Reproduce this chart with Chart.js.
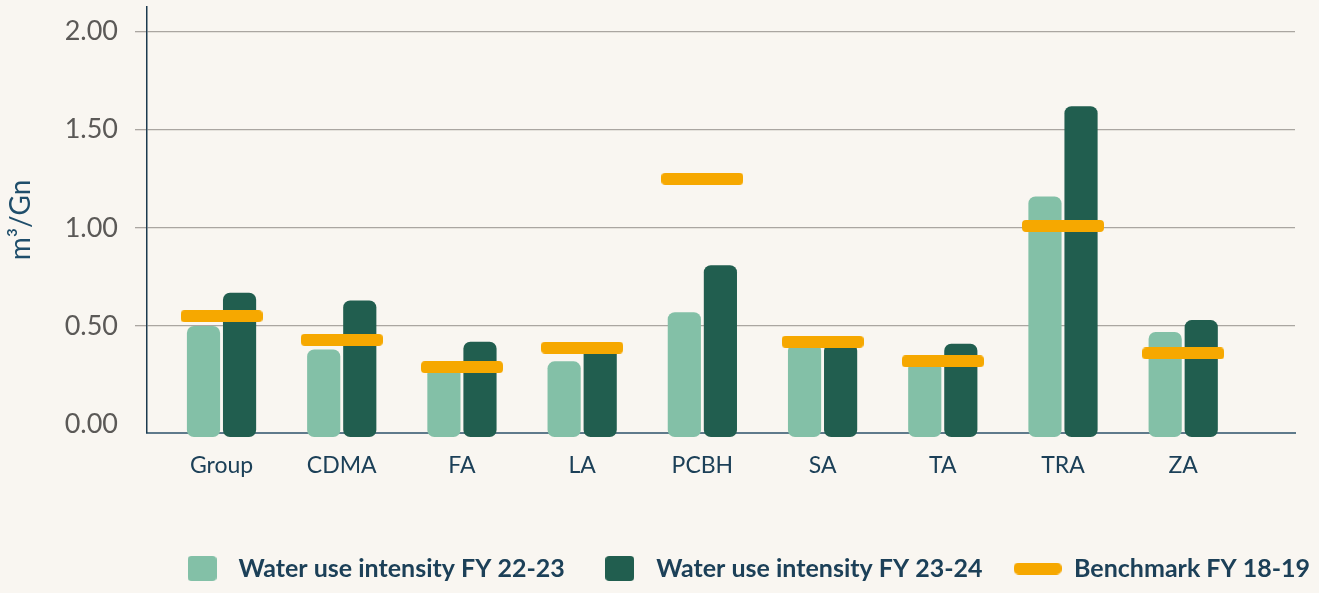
<!DOCTYPE html>
<html>
<head>
<meta charset="utf-8">
<script src="https://cdn.jsdelivr.net/npm/chart.js@4.4.1/dist/chart.umd.min.js"></script>
<style>
  html, body { margin: 0; padding: 0; background: #f9f6f1; }
  #wrap { width: 1319px; height: 593px; position: relative; }
</style>
</head>
<body>
<div id="wrap"><canvas id="waterChart"></canvas></div>
<script>
// sites and water use intensity (m3/Gn)
const sites = ["Group", "CDMA", "FA", "LA", "PCBH", "SA", "TA", "TRA", "ZA"];
const fy2223 = [0.50, 0.38, 0.29, 0.32, 0.57, 0.41, 0.32, 1.16, 0.47];
const fy2324 = [0.67, 0.63, 0.42, 0.39, 0.81, 0.41, 0.41, 1.62, 0.53];
const benchmark1819 = [0.55, 0.43, 0.29, 0.39, 1.25, 0.42, 0.32, 1.01, 0.36];
const yTicks = [0, 0.5, 1, 1.5, 2];

const LIGHT = "#83c0a7";
const DARK = "#215e4f";
const ORANGE = "#f6a800";
const NAVY = "#1c4058";

// small rounded swatches used as point styles
function swatch(w, h, r, color) {
  const c = document.createElement("canvas");
  c.width = w;
  c.height = h;
  const g = c.getContext("2d");
  g.fillStyle = color;
  g.beginPath();
  g.roundRect(0, 0, w, h, r);
  g.fill();
  return c;
}

const benchMark = swatch(82, 12, 4, ORANGE);
const legendIcons = [swatch(29, 25, 4, LIGHT), swatch(29, 25, 4, DARK), swatch(48, 12, 5, ORANGE)];

const toPoints = (vals) => vals.map((v, i) => ({ x: i, y: v }));

// no extra room reserved for overhanging tick labels
const noLabelPadding = (s) => {
  s.paddingTop = 0;
  s.paddingBottom = 0;
  s.paddingLeft = 0;
  s.paddingRight = 0;
};

// legend starts at the left edge of the plot area
const legendPlacement = {
  id: "legendPlacement",
  afterLayout(chart) {
    const lg = chart.legend;
    const dx = chart.chartArea.left - lg.left;
    lg.left += dx;
    lg.right += dx;
    lg.top -= 2;
    lg.bottom -= 2;
  },
};

const ctx = document.getElementById("waterChart").getContext("2d");
new Chart(ctx, {
  type: "bar",
  data: {
    datasets: [
      {
        label: "Water use intensity FY 22-23",
        data: toPoints(fy2223),
        backgroundColor: LIGHT,
        borderRadius: 7,
        borderSkipped: false,
        base: -0.065,
        clip: false,
        order: 1,
      },
      {
        label: "Water use intensity FY 23-24",
        data: toPoints(fy2324),
        backgroundColor: DARK,
        borderRadius: 7,
        borderSkipped: false,
        base: -0.065,
        clip: false,
        order: 1,
      },
      {
        type: "line",
        label: "Benchmark FY 18-19",
        data: toPoints(benchmark1819),
        showLine: false,
        pointStyle: benchMark,
        pointRadius: 6,
        backgroundColor: ORANGE,
        borderColor: ORANGE,
        order: 0,
      },
    ],
  },
  options: {
    responsive: true,
    maintainAspectRatio: false,
    animation: false,
    layout: { padding: { top: 5, right: 24, left: 0, bottom: 0 } },
    datasets: {
      bar: { categoryPercentage: 0.6, barPercentage: 0.92 },
    },
    scales: {
      x: {
        type: "linear",
        offset: false,
        min: -0.62,
        max: 8.93,
        afterBuildTicks: (s) => { s.ticks = sites.map((_, i) => ({ value: i })); },
        afterFit: (s) => {
          noLabelPadding(s);
          s.height = s.chart.height - 433 - s.chart.legend.height;
        },
        ticks: {
          autoSkip: false,
          maxRotation: 0,
          padding: 19,
          color: NAVY,
          font: { family: "Lato", size: 23 },
          callback: (v) => sites[v],
        },
        grid: { display: false, drawTicks: false },
        border: { display: true, color: "#5f7a8b", width: 2 },
      },
      y: {
        min: -0.045,
        max: 2.125,
        afterBuildTicks: (s) => { s.ticks = yTicks.map((v) => ({ value: v })); },
        afterFit: (s) => {
          noLabelPadding(s);
          s.width = 147;
        },
        ticks: {
          padding: 17,
          color: "#5b5957",
          font: { family: "Lato", size: 27 },
          callback: (v) => v.toFixed(2),
        },
        grid: {
          color: (c) => (c.tick && c.tick.value === 0 ? "rgba(0,0,0,0)" : "#aaa6a1"),
          tickColor: (c) => (c.tick && c.tick.value === 0 ? "rgba(0,0,0,0)" : "#aaa6a1"),
          lineWidth: 1.3,
          tickLength: 12,
        },
        border: { display: true, color: "#1c3a4f", width: 1.5 },
        title: {
          display: true,
          text: "m³/Gn",
          color: "#1f4e6b",
          font: { family: "Lato", size: 28 },
          padding: { top: 4, bottom: 0 },
        },
      },
    },
    plugins: {
      tooltip: { enabled: false },
      legend: {
        position: "bottom",
        align: "start",
        labels: {
          usePointStyle: true,
          pointStyleWidth: 48,
          padding: 31,
          color: NAVY,
          font: { family: "Lato", size: 25, weight: "bold" },
          sort: (a, b) => a.datasetIndex - b.datasetIndex,
          generateLabels: (chart) => {
            const items = Chart.defaults.plugins.legend.labels.generateLabels(chart);
            items.forEach((it) => { it.pointStyle = legendIcons[it.datasetIndex]; });
            return items;
          },
        },
      },
    },
  },
  plugins: [legendPlacement],
});
</script>
</body>
</html>
